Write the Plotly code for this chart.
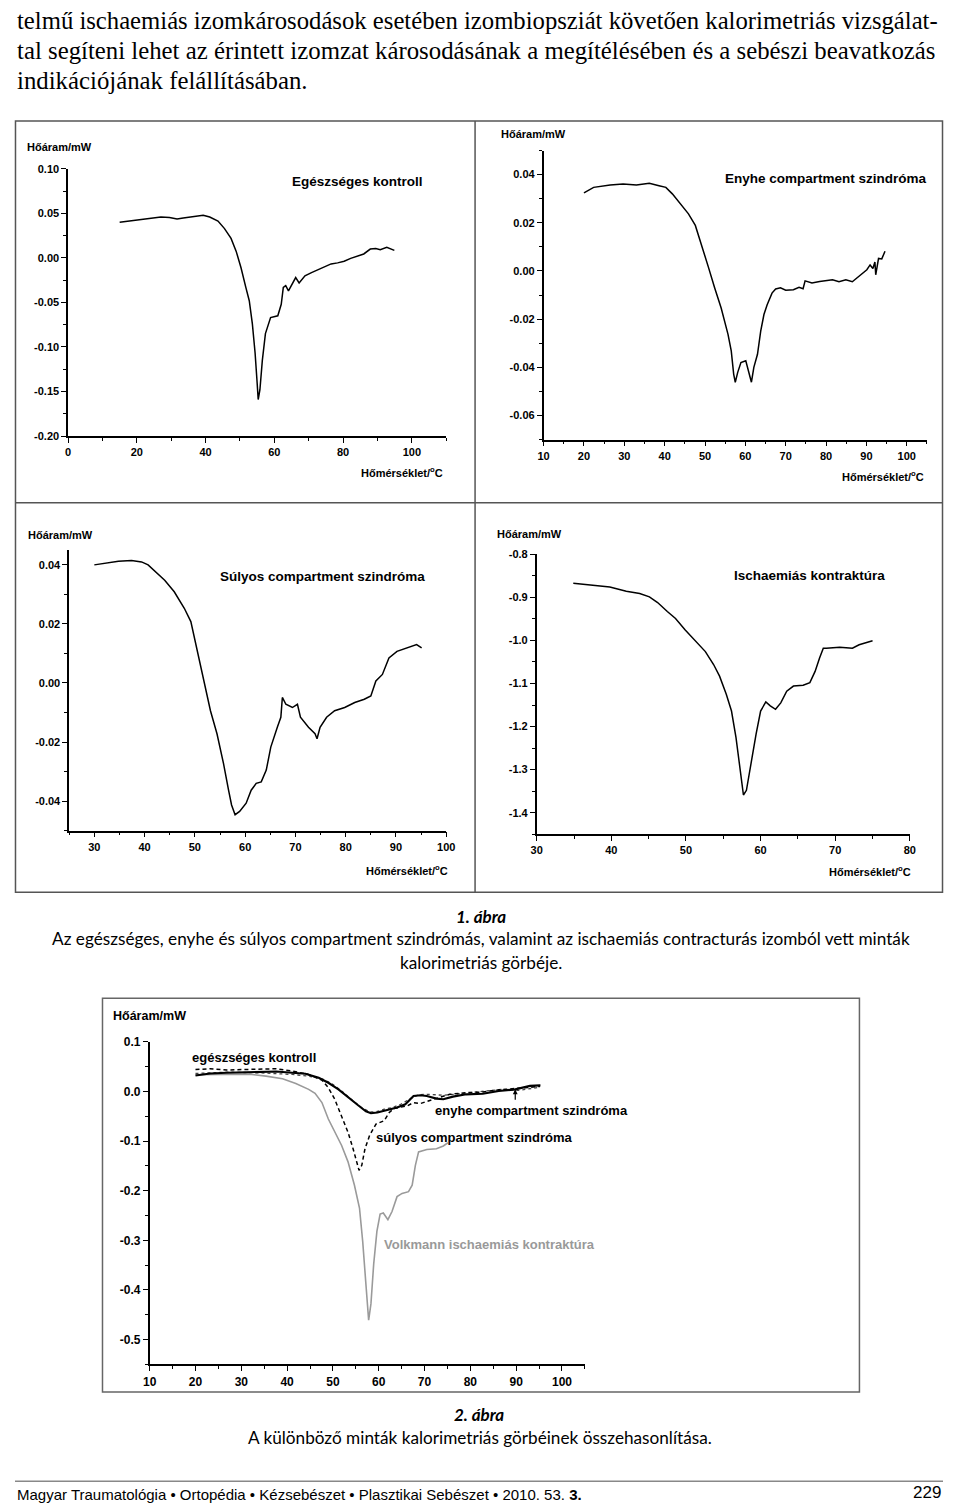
import plotly.graph_objects as go

# ---------------- DATA ----------------
# Panel 1: Egészséges kontroll
ctrl_x = [15.0, 17.0, 20.3, 23.0, 27.0, 29.5, 31.7, 33.5, 35.5, 37.5, 39.3, 41.2, 43.6, 45.5, 47.4, 48.9,
          50.3, 51.7, 52.7, 53.6, 54.4, 55.0, 55.3, 55.8, 56.5, 57.4, 58.9, 61.0, 62.0, 62.6, 63.3,
          64.1, 65.0, 66.2, 67.2, 68.9, 70.8, 72.7, 74.6, 76.5, 78.4, 80.3, 82.2, 84.1, 86.0, 87.9,
          89.5, 90.8, 92.7, 94.9]
ctrl_y = [0.040, 0.041, 0.0426, 0.044, 0.046, 0.0455, 0.0437, 0.0448, 0.046, 0.0465, 0.048, 0.046,
          0.0415, 0.033, 0.022, 0.0074, -0.011, -0.033, -0.048, -0.074, -0.107, -0.141, -0.159,
          -0.148, -0.115, -0.085, -0.067, -0.065, -0.052, -0.033, -0.031, -0.037, -0.030, -0.022,
          -0.028, -0.020, -0.0165, -0.013, -0.0095, -0.0067, -0.0055, -0.0037, -0.0005, 0.0019,
          0.0045, 0.010, 0.0105, 0.0093, 0.012, 0.0085]

# Panel 2: Enyhe compartment szindróma
mild_x = [20.0, 22.4, 26.5, 29.7, 33.0, 36.2, 38.6, 40.3, 41.9, 43.5, 45.9, 47.6, 49.2, 50.8, 52.4,
          54.0, 55.7, 56.5, 57.1, 57.5, 58.1, 58.9, 60.1, 60.9, 61.5, 62.1, 63.0, 63.8, 64.6, 65.4,
          66.6, 67.5, 68.7, 70.0, 71.9, 73.3, 74.3, 74.8, 76.5, 78.4, 80.0, 81.6, 83.2, 84.9, 86.5,
          88.2, 89.6, 90.1, 90.9, 91.6, 92.1, 92.3, 93.0, 93.8, 94.6]
mild_y = [0.0324, 0.0347, 0.0357, 0.0361, 0.0357, 0.0364, 0.0354, 0.0347, 0.032, 0.0285, 0.0237,
          0.0189, 0.0107, 0.0018, -0.0071, -0.0154, -0.0263, -0.0332, -0.0428, -0.0462, -0.0421,
          -0.038, -0.0373, -0.0428, -0.0462, -0.040, -0.0346, -0.025, -0.0181, -0.014, -0.0092,
          -0.0075, -0.0070, -0.0080, -0.0078, -0.0068, -0.0074, -0.0041, -0.0050, -0.0044, -0.0040,
          -0.0037, -0.0045, -0.0037, -0.0045, -0.0021, 0.0000, 0.0005, 0.0025, 0.0010, 0.0037,
          -0.0016, 0.0052, 0.0050, 0.0082]

# Panel 3: Súlyos compartment szindróma
sev_x = [30.0, 32.2, 34.8, 37.4, 39.4, 40.7, 42.0, 44.0, 45.9, 47.9, 49.2, 50.1, 51.1, 52.1, 53.1,
         54.4, 55.7, 56.7, 57.3, 58.0, 58.9, 60.2, 61.2, 62.2, 63.2, 64.2, 65.1, 66.4, 67.1, 67.4,
         68.1, 69.4, 70.4, 71.0, 72.6, 73.9, 74.3, 74.9, 76.2, 77.8, 79.8, 81.8, 83.7, 85.0, 86.0,
         87.3, 88.6, 90.2, 92.2, 94.1, 95.1]
sev_y = [0.040, 0.0406, 0.0412, 0.0415, 0.041, 0.040, 0.038, 0.0348, 0.0309, 0.0253, 0.0208, 0.0141,
         0.0063, -0.0016, -0.0094, -0.0172, -0.0273, -0.0363, -0.0413, -0.0446, -0.0435, -0.0407,
         -0.0363, -0.034, -0.0335, -0.0295, -0.0217, -0.015, -0.0116, -0.0049, -0.0072, -0.0083,
         -0.0072, -0.0116, -0.015, -0.0172, -0.0189, -0.015, -0.0116, -0.0094, -0.0083, -0.0066,
         -0.0055, -0.0044, 0.0007, 0.0029, 0.0085, 0.0107, 0.0119, 0.013, 0.0119]

# Panel 4: Ischaemiás kontraktúra
isch_x = [34.9, 37.6, 39.8, 42.0, 43.8, 45.1, 46.2, 47.5, 48.6, 49.9, 51.2, 52.6, 53.7, 54.5, 55.4,
          56.1, 56.7, 57.3, 57.7, 58.1, 58.7, 59.4, 60.0, 60.7, 61.3, 62.0, 62.7, 63.5, 64.4, 65.7,
          66.6, 67.3, 67.9, 68.4, 68.8, 70.6, 72.3, 73.2, 75.0]
isch_y = [-0.867, -0.871, -0.876, -0.886, -0.891, -0.899, -0.912, -0.933, -0.949, -0.976, -0.999,
          -1.026, -1.056, -1.083, -1.125, -1.164, -1.225, -1.309, -1.359, -1.348, -1.286, -1.217,
          -1.164, -1.143, -1.152, -1.160, -1.145, -1.118, -1.106, -1.104, -1.098, -1.072, -1.041,
          -1.018, -1.018, -1.016, -1.018, -1.010, -1.001]

# Figure 2: comparison
cmp_ctrl_x = [20.0, 23.2, 26.8, 30.4, 34.0, 37.6, 41.1, 44.7, 47.6, 49.0, 50.4, 51.9, 53.3, 54.4,
              55.1, 55.7, 56.3, 57.0, 58.0, 59.4, 61.2, 62.3, 63.3, 64.8, 66.2, 67.6, 69.1, 71.9,
              75.5, 79.1, 82.7, 86.2, 89.8, 93.0, 95.2]
cmp_ctrl_y = [0.044, 0.0455, 0.043, 0.044, 0.0455, 0.0455, 0.041, 0.034, 0.0226, 0.0073, -0.016,
              -0.049, -0.0825, -0.1155, -0.142, -0.159, -0.149, -0.1155, -0.089, -0.0659, -0.059,
              -0.0426, -0.0346, -0.0326, -0.0293, -0.0226, -0.0246, -0.016, -0.006, -0.0027,
              -0.0013, 0.003, 0.006, 0.009, 0.010]
cmp_mild_x = [20.0, 23.2, 26.8, 30.4, 34.0, 37.6, 41.1, 44.0, 46.9, 49.0, 51.2, 53.3, 55.5, 57.2,
              58.3, 59.7, 61.2, 62.6, 64.0, 65.8, 67.6, 69.1, 70.5, 72.6, 74.1, 76.2, 79.1, 82.7,
              86.2, 89.8, 93.0, 95.3]
cmp_mild_y = [0.032, 0.036, 0.0373, 0.0387, 0.040, 0.040, 0.0373, 0.0353, 0.0273, 0.0173, 0.004,
              -0.0126, -0.028, -0.040, -0.044, -0.0426, -0.0386, -0.036, -0.0326, -0.026, -0.0093,
              -0.008, -0.0093, -0.0146, -0.016, -0.0106, -0.006, -0.0047, 0.0007, 0.004, 0.011,
              0.012]
cmp_sev_x = [20.0, 26.8, 34.0, 37.6, 41.1, 44.7, 47.6, 49.7, 51.9, 54.0, 56.2, 58.0, 59.4, 61.2,
             63.0, 64.8, 66.9, 68.7, 71.2, 74.1, 76.9, 80.5, 84.1, 87.0, 90.5, 95.0]
cmp_sev_y = [0.036, 0.0387, 0.0373, 0.036, 0.034, 0.0306, 0.0253, 0.016, 0.0007, -0.016, -0.0326,
             -0.0413, -0.0413, -0.036, -0.0326, -0.026, -0.0146, -0.0067, -0.006, -0.008, -0.0053,
             -0.0013, 0.0013, 0.004, 0.002, 0.008]
cmp_isch_x = [20.0, 26.8, 31.8, 35.4, 39.0, 41.9, 44.7, 46.1, 47.6, 49.0, 50.4, 51.9, 53.3, 54.7,
              55.8, 56.5, 57.2, 57.8, 58.3, 58.9, 59.6, 60.3, 61.0, 62.0, 62.9, 64.0, 65.1, 66.5,
              67.3, 68.0, 68.7, 70.5, 72.6, 74.1, 75.1]
cmp_isch_y = [0.0333, 0.0346, 0.0346, 0.0306, 0.0253, 0.016, 0.004, -0.004, -0.0226, -0.0557,
              -0.0823, -0.109, -0.142, -0.189, -0.235, -0.302, -0.388, -0.461, -0.428, -0.348,
              -0.282, -0.247, -0.245, -0.2585, -0.242, -0.212, -0.2055, -0.202, -0.189, -0.149,
              -0.122, -0.117, -0.1155, -0.110, -0.1035]

# Tick labels
p1_xt = [0, 20, 40, 60, 80, 100]
p1_yt = [0.10, 0.05, 0.00, -0.05, -0.10, -0.15, -0.20]
p1_ytt = ["0.10", "0.05", "0.00", "-0.05", "-0.10", "-0.15", "-0.20"]
p2_xt = [10, 20, 30, 40, 50, 60, 70, 80, 90, 100]
p2_yt = [0.04, 0.02, 0.00, -0.02, -0.04, -0.06]
p2_ytt = ["0.04", "0.02", "0.00", "-0.02", "-0.04", "-0.06"]
p3_xt = [30, 40, 50, 60, 70, 80, 90, 100]
p3_yt = [0.04, 0.02, 0.00, -0.02, -0.04]
p3_ytt = ["0.04", "0.02", "0.00", "-0.02", "-0.04"]
p4_xt = [30, 40, 50, 60, 70, 80]
p4_yt = [-0.8, -0.9, -1.0, -1.1, -1.2, -1.3, -1.4]
p4_ytt = ["-0.8", "-0.9", "-1.0", "-1.1", "-1.2", "-1.3", "-1.4"]
p5_xt = [10, 20, 30, 40, 50, 60, 70, 80, 90, 100]
p5_yt = [0.1, 0.0, -0.1, -0.2, -0.3, -0.4, -0.5]
p5_ytt = ["0.1", "0.0", "-0.1", "-0.2", "-0.3", "-0.4", "-0.5"]

# ---------------- LAYOUT ----------------
# The page keeps the browser's default 8px body margin, so the figure is sized to fit the
# 960x1511 window exactly; PX/PY convert window pixel positions to paper coordinates.
OFF = 8
W, H = 960 - 2 * OFF, 1511 - 2 * OFF
def PX(x): return (x - OFF) / W
def PY(y): return 1 - (y - OFF) / H

SANS = "Liberation Sans, Arial, sans-serif"
fig = go.Figure()

panels = [
    (1, ctrl_x, ctrl_y, (62, 446.7), (163.3, 432.7), [0, 110], [-0.20, 0.10], p1_xt, p1_yt, p1_ytt, 10, 0.025, 11),
    (2, mild_x, mild_y, (545.7, 935.7), (144.7, 436.3), [10, 105], [-0.07, 0.05], p2_xt, p2_yt, p2_ytt, 5, 0.01, 11),
    (3, sev_x, sev_y, (63.1, 446.7), (547.8, 830.8), [25, 100], [-0.05, 0.045], p3_xt, p3_yt, p3_ytt, 5, 0.01, 11),
    (4, isch_x, isch_y, (538.7, 918.3), (552, 834.4), [30, 80], [-1.45, -0.8], p4_xt, p4_yt, p4_ytt, 5, 0.05, 11),
]

layout = dict(width=W, height=H, margin=dict(l=0, r=0, t=0, b=0, pad=0), paper_bgcolor="white",
              plot_bgcolor="white", showlegend=False, autosize=False)

def axes(i, xd, yd, xr, yr, xt, yt, ytt, xm, ym, fs):
    sfx = "" if i == 1 else str(i)
    common = dict(showline=True, linecolor="black", linewidth=1.5, ticks="outside", ticklen=5,
                  tickwidth=1.3, tickcolor="black", showgrid=False, zeroline=False,
                  tickfont=dict(family=SANS, size=fs, color="black", weight="bold"))
    layout["xaxis" + sfx] = dict(domain=[PX(xd[0]), PX(xd[1])], range=xr, anchor="y" + sfx,
                                 tickmode="array", tickvals=xt, ticktext=[str(v) for v in xt],
                                 minor=dict(tickmode="linear", tick0=0, dtick=xm, ticks="outside",
                                            ticklen=3, tickwidth=1.2, tickcolor="black", showgrid=False),
                                 **common)
    layout["yaxis" + sfx] = dict(domain=[PY(yd[1]), PY(yd[0])], range=yr, anchor="x" + sfx,
                                 tickmode="array", tickvals=yt, ticktext=ytt,
                                 minor=dict(tickmode="linear", tick0=0, dtick=ym, ticks="outside",
                                            ticklen=3, tickwidth=1.2, tickcolor="black", showgrid=False),
                                 **common)

for (i, xs, ys, xd, yd, xr, yr, xt, yt, ytt, xm, ym, fs) in panels:
    axes(i, xd, yd, xr, yr, xt, yt, ytt, xm, ym, fs)
    sfx = "" if i == 1 else str(i)
    fig.add_trace(go.Scatter(x=xs, y=ys, mode="lines", line=dict(color="black", width=1.5),
                             xaxis="x" + sfx, yaxis="y" + sfx))

axes(5, (145, 587.7), (1043.7, 1369.3), [10, 105], [-0.55, 0.1], p5_xt, p5_yt, p5_ytt, 5, 0.05, 12)
fig.add_trace(go.Scatter(x=cmp_isch_x, y=cmp_isch_y, mode="lines",
                         line=dict(color="#9a9a9a", width=1.6), xaxis="x5", yaxis="y5"))
fig.add_trace(go.Scatter(x=cmp_sev_x, y=cmp_sev_y, mode="lines",
                         line=dict(color="#444444", width=1.3, dash="dot"), xaxis="x5", yaxis="y5"))
fig.add_trace(go.Scatter(x=cmp_ctrl_x, y=cmp_ctrl_y, mode="lines",
                         line=dict(color="black", width=1.5, dash="4px,3px"), xaxis="x5", yaxis="y5"))
fig.add_trace(go.Scatter(x=cmp_mild_x, y=cmp_mild_y, mode="lines",
                         line=dict(color="black", width=2.1), xaxis="x5", yaxis="y5"))

ann = []
def txt(t, x, y, size, family=SANS, weight="bold", color="black", xanchor="left", style="normal"):
    ann.append(dict(text=t, x=PX(x), y=PY(y), xref="paper", yref="paper", showarrow=False,
                    xanchor=xanchor, yanchor="middle",
                    font=dict(family=family, size=size, color=color, weight=weight, style=style)))

# top paragraph
SERIF = "Liberation Serif, Times New Roman, serif"
txt("telmű ischaemiás izomkárosodások esetében izombiopsziát követően kalorimetriás vizsgálat-", 8, 14, 24.7, SERIF, "normal")
txt("tal segíteni lehet az érintett izomzat károsodásának a megítélésében és a sebészi beavatkozás", 8, 44, 24.8, SERIF, "normal")
txt("indikációjának felállításában.", 8, 74, 24.8, SERIF, "normal")

# panel labels
ylab = "Hőáram/mW"
xlab = "Hőmérséklet/<sup>o</sup>C"
txt(ylab, 18, 141, 11)
txt(ylab, 500, 128, 11)
txt(ylab, 19, 533, 11)
txt(ylab, 496, 532, 11)
txt(ylab, 106, 1018, 12.5)
txt(xlab, 358, 469, 11)
txt(xlab, 847, 473, 11)
txt(xlab, 363, 870, 11)
txt(xlab, 834, 872, 11)
txt("Egészséges kontroll", 288, 176, 13.5)
txt("Enyhe compartment szindróma", 728, 173, 13.5)
txt("Súlyos compartment szindróma", 215, 574, 13.5)
txt("Ischaemiás kontraktúra", 737, 573, 13.5)

# comparison labels
txt("egészséges kontroll", 186, 1060, 13)
txt("enyhe compartment szindróma", 433, 1113, 13)
txt("súlyos compartment szindróma", 373, 1140, 13)
txt("Volkmann ischaemiás kontraktúra", 381, 1248, 13, color="#999999")
ann.append(dict(x=89.8, y=0.004, xref="x5", yref="y5", text="", showarrow=True, ax=0, ay=12,
                arrowhead=2, arrowsize=0.8, arrowwidth=1.2, arrowcolor="black"))

# captions
CAP = "Lato, Open Sans, sans-serif"
txt("1. ábra", 482, 917, 17, CAP, "bold", xanchor="center", style="italic")
txt("Az egészséges, enyhe és súlyos compartment szindrómás, valamint az ischaemiás contracturás izomból vett minták",
    482, 940, 17.2, CAP, "normal", xanchor="center")
txt("kalorimetriás görbéje.", 482, 964, 17.2, CAP, "normal", xanchor="center")
txt("2. ábra", 480, 1420, 17, CAP, "bold", xanchor="center", style="italic")
txt("A különböző minták kalorimetriás görbéinek összehasonlítása.", 481, 1443, 17.2, CAP, "normal", xanchor="center")

# footer
FOOT = "Liberation Sans, Arial, sans-serif"
txt("Magyar Traumatológia • Ortopédia • Kézsebészet • Plasztikai Sebészet • 2010. 53. <b>3.</b>", 8, 1500, 15, FOOT, "normal")
txt("229", 952, 1498, 17, FOOT, "normal", xanchor="right")

layout["annotations"] = ann

shapes = []
def rect(x0, y0, x1, y1, color="#555555", w=1.5):
    shapes.append(dict(type="rect", xref="paper", yref="paper", x0=PX(x0), y0=PY(y1), x1=PX(x1), y1=PY(y0),
                       line=dict(color=color, width=w), fillcolor="rgba(0,0,0,0)"))
def line(x0, y0, x1, y1, color="#555555", w=1.5):
    shapes.append(dict(type="line", xref="paper", yref="paper", x0=PX(x0), y0=PY(y0), x1=PX(x1), y1=PY(y1),
                       line=dict(color=color, width=w)))
rect(8.5, 115, 951.5, 893)
line(476, 115, 476, 893)
line(8.5, 500, 951.5, 500)
rect(97, 1000, 867, 1397, "#666666", 1.5)
line(8, 1487, 952, 1487, "#888888", 1.5)
layout["shapes"] = shapes

fig.update_layout(**layout)
fig.write_html("out.html", config={"displayModeBar": False})
